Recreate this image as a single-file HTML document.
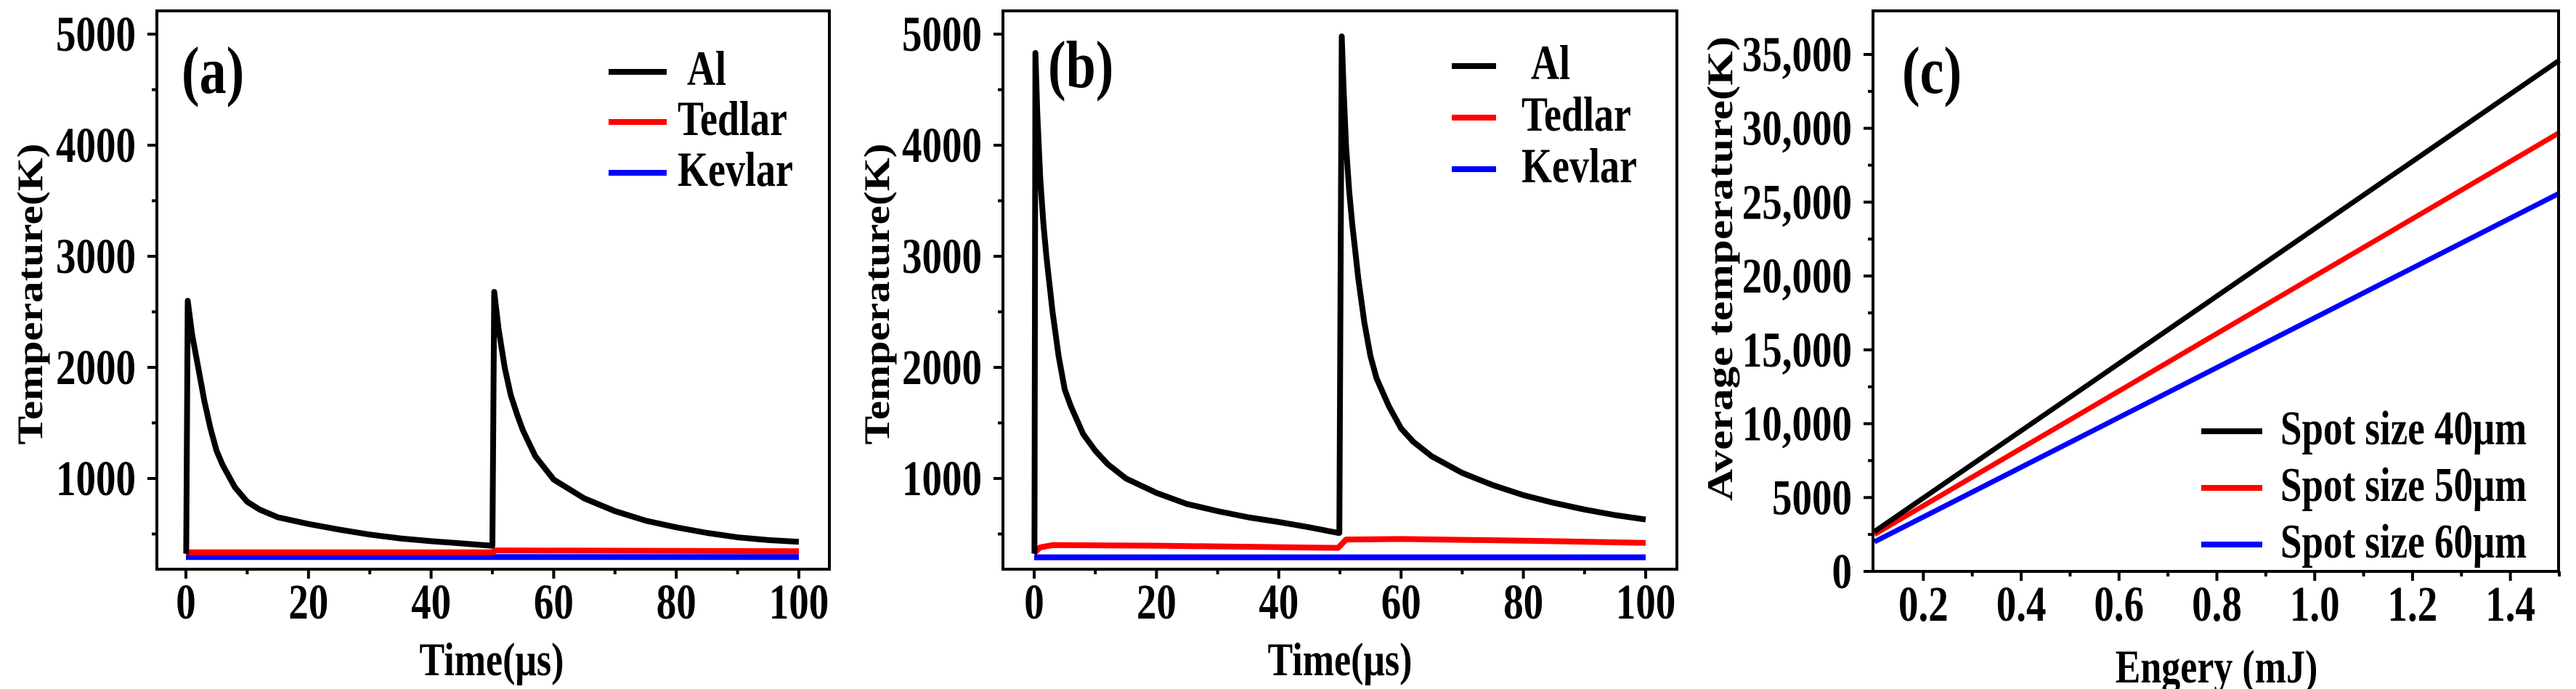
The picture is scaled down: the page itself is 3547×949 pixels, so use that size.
<!DOCTYPE html>
<html><head><meta charset="utf-8">
<style>
html,body{margin:0;padding:0;background:#fff;}
svg{display:block;}
text{font-family:"Liberation Serif",serif;font-weight:bold;fill:#000;}
</style></head>
<body>
<svg id="fig" width="3547" height="949" viewBox="0 0 3547 949" xmlns="http://www.w3.org/2000/svg"></svg>
<script>
// ---- Panel (a) data ----
const aTime = [0, 0.05, 0.3, 1, 2, 3, 4, 5, 6, 8, 10, 12, 15, 20, 25, 30, 35, 40, 45, 49.8, 50, 50.3, 51, 52, 53, 54, 55, 57, 60, 65, 70, 75, 80, 85, 90, 95, 100];
const aAl   = [320, 330, 2600, 2300, 2000, 1700, 1450, 1250, 1120, 920, 790, 720, 650, 590, 540, 495, 460, 435, 415, 395, 395, 2680, 2350, 2000, 1750, 1580, 1430, 1200, 990, 820, 706, 620, 560, 510, 470, 445, 430];
const aTedTime = [0, 50, 50.5, 100];
const aTedlar  = [335, 335, 352, 345];
const aKevTime = [0, 100];
const aKevlar  = [292, 292];
// ---- Panel (b) data ----
const bTime = [0, 0.05, 0.2, 0.5, 1, 1.5, 2, 3, 4, 5, 6, 8, 10, 12, 15, 20, 25, 30, 35, 40, 45, 49.7, 49.9, 50.3, 50.6, 51, 51.5, 52, 53, 54, 55, 56, 58, 60, 62, 65, 70, 75, 80, 85, 90, 95, 100];
const bAl   = [320, 330, 4830, 4300, 3700, 3300, 3000, 2500, 2100, 1800, 1650, 1400, 1250, 1130, 1000, 870, 770, 706, 650, 608, 560, 510, 510, 4980, 4500, 4000, 3600, 3300, 2800, 2400, 2100, 1900, 1650, 1450, 1330, 1200, 1050, 940, 850, 780, 720, 670, 630];
const bTedTime = [0, 1, 3, 20, 49.7, 51, 60, 80, 100];
const bTedlar  = [330, 380, 400, 395, 375, 450, 455, 440, 420];
const bKevTime = [0, 100];
const bKevlar  = [290, 290];
// ---- Panel (c) data ----
const cEnergy = [0.1, 0.5, 1.0, 1.5];
const cSpot40 = [2700, 11800, 23200, 34600];
const cSpot50 = [2500, 10270, 19990, 29700];
const cSpot60 = [2000, 8740, 17170, 25600];
// tick labels
const tTicks = [0, 20, 40, 60, 80, 100];
const tempTicks = [1000, 2000, 3000, 4000, 5000];
const eTicks = [0.2, 0.4, 0.6, 0.8, 1.0, 1.2, 1.4];
const avgTicks = [0, 5000, 10000, 15000, 20000, 25000, 30000, 35000];
const avgTickLabels = ["0", "5000", "10,000", "15,000", "20,000", "25,000", "30,000", "35,000"];

const NS = "http://www.w3.org/2000/svg";
const svg = document.getElementById("fig");
function el(tag, attrs, parent) {
  const e = document.createElementNS(NS, tag);
  for (const k in attrs) e.setAttribute(k, attrs[k]);
  (parent || svg).appendChild(e);
  return e;
}
function txt(s, x, y, size, anchor, parent, name, sy) {
  const t = el("text", {transform: `translate(${x},${y}) scale(1,${sy || 1.25})`, "font-size": size, "text-anchor": anchor}, parent);
  t.textContent = s;
  
  
  return t;
}
function lin(d0, d1, p0, p1) { return v => p0 + (v - d0) / (d1 - d0) * (p1 - p0); }

function panel(cfg) {
  const g = el("g", {});
  
  
  const X = cfg.X, Y = cfg.Y;
  cfg.series.forEach(s => {
    let d = "";
    s.x.forEach((xv, i) => { d += (i ? "L" : "M") + X(xv).toFixed(1) + "," + Y(s.y[i]).toFixed(1); });
    const p = el("path", {d: d, fill: "none", stroke: s.color, "stroke-width": s.w, "stroke-linejoin": "round"}, g);
    
    
  });
  const f = el("rect", {x: cfg.L, y: cfg.T, width: cfg.R - cfg.L, height: cfg.B - cfg.T, fill: "none", stroke: "#000", "stroke-width": 4}, g);
  
  
  cfg.xMajor.forEach((v, i) => {
    const x = X(v);
    const tk = el("line", {x1: x, x2: x, y1: cfg.B, y2: cfg.B + 13, stroke: "#000", "stroke-width": 4}, g);
    
    
    txt(cfg.xLabels[i], x, cfg.B + 68, cfg.tickSize, "middle", g, "x-tick-label");
  });
  cfg.xMinor.forEach(v => {
    const x = X(v);
    const tk = el("line", {x1: x, x2: x, y1: cfg.B, y2: cfg.B + 7, stroke: "#000", "stroke-width": 4}, g);
    
    
  });
  cfg.yMajor.forEach((v, i) => {
    const y = Y(v);
    const tk = el("line", {x1: cfg.L - 13, x2: cfg.L, y1: y, y2: y, stroke: "#000", "stroke-width": 4}, g);
    
    
    txt(cfg.yLabels[i], cfg.L - 29, y + 23, cfg.tickSize, "end", g, "y-tick-label");
  });
  cfg.yMinor.forEach(v => {
    const y = Y(v);
    const tk = el("line", {x1: cfg.L - 7, x2: cfg.L, y1: y, y2: y, stroke: "#000", "stroke-width": 4}, g);
    
    
  });
  txt(cfg.xTitle, cfg.xTitleX, cfg.xTitleY, 52, "middle", g, "x-axis-title");
  const yt = el("text", {transform: `translate(${cfg.yTitleX},${cfg.yTitleY}) rotate(-90)`, "font-size": 50, "text-anchor": "middle", textLength: cfg.yTitleLen, lengthAdjust: "spacingAndGlyphs"}, g);
  yt.textContent = cfg.yTitle;
  
  
  txt(cfg.tag, cfg.tagX, cfg.tagY, 74, "start", g, "panel-label");
  cfg.legend.forEach(l => {
    const lg = el("g", {}, g);
    
    
    const ln = el("line", {x1: l.x1, x2: l.x2, y1: l.y, y2: l.y, stroke: l.color, "stroke-width": 8}, lg);
    
    
    txt(l.label, l.tx, l.y + 18, l.size, "start", lg, "legend-label");
  });
}

const tMinor = [10, 30, 50, 70, 90];
const tempMinor = [500, 1500, 2500, 3500, 4500];
const tempY = lin(1000, 5000, 659, 47);

panel({
  name: "panel-a", L: 216, R: 1142, T: 15, B: 784,
  X: lin(0, 100, 256, 1100), Y: tempY,
  series: [
    {name: "kevlar-line-a", x: aKevTime, y: aKevlar, color: "#0000ff", w: 8},
    {name: "tedlar-line-a", x: aTedTime, y: aTedlar, color: "#ff0000", w: 8},
    {name: "al-line-a", x: aTime, y: aAl, color: "#000", w: 8}
  ],
  xMajor: tTicks, xLabels: tTicks.map(String), xMinor: tMinor,
  yMajor: tempTicks, yLabels: tempTicks.map(String), yMinor: tempMinor,
  tickSize: 55,
  xTitle: "Time(μs)", xTitleX: 677, xTitleY: 930,
  yTitle: "Temperature(K)", yTitleX: 58, yTitleY: 405, yTitleLen: 415,
  tag: "(a)", tagX: 250, tagY: 128,
  legend: [
    {x1: 838, x2: 918, y: 99, color: "#000", label: "Al", tx: 946, size: 54},
    {x1: 838, x2: 918, y: 168, color: "#ff0000", label: "Tedlar", tx: 933, size: 54},
    {x1: 838, x2: 918, y: 238, color: "#0000ff", label: "Kevlar", tx: 933, size: 54}
  ]
});

panel({
  name: "panel-b", L: 1381, R: 2309, T: 15, B: 784,
  X: lin(0, 100, 1424, 2266), Y: tempY,
  series: [
    {name: "kevlar-line-b", x: bKevTime, y: bKevlar, color: "#0000ff", w: 8},
    {name: "tedlar-line-b", x: bTedTime, y: bTedlar, color: "#ff0000", w: 8},
    {name: "al-line-b", x: bTime, y: bAl, color: "#000", w: 8}
  ],
  xMajor: tTicks, xLabels: tTicks.map(String), xMinor: tMinor,
  yMajor: tempTicks, yLabels: tempTicks.map(String), yMinor: tempMinor,
  tickSize: 55,
  xTitle: "Time(μs)", xTitleX: 1845, xTitleY: 930,
  yTitle: "Temperature(K)", yTitleX: 1224, yTitleY: 405, yTitleLen: 415,
  tag: "(b)", tagX: 1443, tagY: 120,
  legend: [
    {x1: 1999, x2: 2060, y: 91, color: "#000", label: "Al", tx: 2108, size: 54},
    {x1: 1999, x2: 2060, y: 162, color: "#ff0000", label: "Tedlar", tx: 2095, size: 54},
    {x1: 1999, x2: 2060, y: 233, color: "#0000ff", label: "Kevlar", tx: 2095, size: 54}
  ]
});

panel({
  name: "panel-c", L: 2579, R: 3523, T: 15, B: 787,
  X: lin(0.1, 1.5, 2581, 3524), Y: lin(0, 35000, 787, 75),
  series: [
    {name: "spot-60-line", x: cEnergy, y: cSpot60, color: "#0000ff", w: 7},
    {name: "spot-50-line", x: cEnergy, y: cSpot50, color: "#ff0000", w: 7},
    {name: "spot-40-line", x: cEnergy, y: cSpot40, color: "#000", w: 7}
  ],
  xMajor: eTicks, xLabels: eTicks.map(v => v.toFixed(1)), xMinor: [0.3, 0.5, 0.7, 0.9, 1.1, 1.3, 1.5],
  yMajor: avgTicks, yLabels: avgTickLabels, yMinor: [2500, 7500, 12500, 17500, 22500, 27500, 32500],
  tickSize: 55,
  xTitle: "Engery (mJ)", xTitleX: 3052, xTitleY: 940,
  yTitle: "Average temperature(K)", yTitleX: 2385, yTitleY: 370, yTitleLen: 640,
  tag: "(c)", tagX: 2619, tagY: 128,
  legend: [
    {x1: 3031, x2: 3115, y: 594, color: "#000", label: "Spot size 40μm", tx: 3140, size: 53},
    {x1: 3031, x2: 3115, y: 672, color: "#ff0000", label: "Spot size 50μm", tx: 3140, size: 53},
    {x1: 3031, x2: 3115, y: 750, color: "#0000ff", label: "Spot size 60μm", tx: 3140, size: 53}
  ]
});
</script>
</body></html>
